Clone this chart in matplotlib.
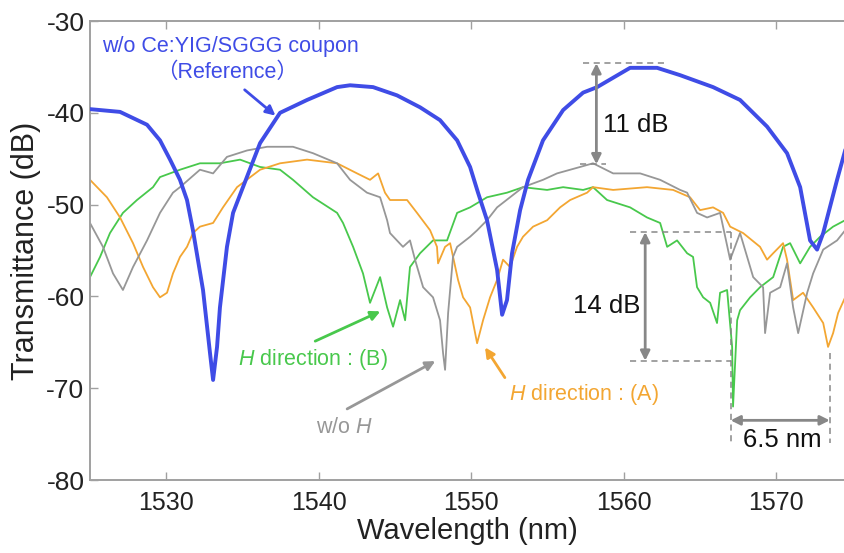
import matplotlib
matplotlib.use("Agg")
import matplotlib.pyplot as plt

plt.rcParams["font.family"] = ["Liberation Sans", "DejaVu Sans"]
plt.rcParams["mathtext.fontset"] = "custom"
plt.rcParams["mathtext.rm"] = "Liberation Sans"
plt.rcParams["mathtext.it"] = "Liberation Sans:italic"
plt.rcParams["axes.unicode_minus"] = False

# Reference spectrum (no Ce:YIG/SGGG coupon)
ref_wl = [1525.0, 1526.97, 1528.74, 1529.59, 1530.25, 1530.90, 1531.36, 1531.75, 1532.41, 1532.87,
          1533.07, 1533.33, 1533.52, 1533.98, 1534.38, 1535.03, 1536.15, 1537.46, 1539.23, 1541.20,
          1542.05, 1543.56, 1545.13, 1546.64, 1547.95, 1549.07, 1549.92, 1550.44, 1551.03, 1551.69,
          1552.02, 1552.34, 1552.67, 1553.20, 1553.72, 1554.70, 1556.02, 1557.33, 1558.25, 1560.41,
          1562.18, 1563.69, 1565.85, 1567.62, 1569.39, 1570.70, 1571.56, 1572.21, 1572.67, 1573.07,
          1573.98, 1574.51]
ref_db = [-39.6, -39.9, -41.3, -43.0, -45.1, -47.3, -49.5, -52.8, -59.3, -66.2,
          -69.1, -65.5, -61.2, -54.6, -50.9, -48.1, -43.3, -40.0, -38.6, -37.2,
          -37.0, -37.2, -38.1, -39.4, -40.8, -43.0, -45.9, -48.7, -51.7, -57.1,
          -62.0, -60.4, -55.3, -50.6, -47.3, -43.0, -39.7, -37.8, -37.2, -35.1,
          -35.1, -35.9, -37.2, -38.6, -41.5, -44.4, -48.1, -53.9, -54.9, -53.1,
          -47.3, -44.1]

# Without magnetic field
noh_wl = [1525.0, 1525.85, 1526.51, 1527.16, 1527.82, 1528.74, 1529.59, 1530.44, 1530.90, 1532.21,
          1533.07, 1533.98, 1535.30, 1536.61, 1538.31, 1539.62, 1541.20, 1542.05, 1543.16, 1544.02,
          1544.48, 1544.67, 1545.52, 1545.98, 1546.31, 1546.84, 1547.49, 1547.95, 1548.15, 1548.28,
          1548.48, 1548.80, 1549.07, 1549.92, 1550.38, 1551.03, 1551.69, 1552.54, 1553.39, 1554.70,
          1555.62, 1557.13, 1557.98, 1559.30, 1561.07, 1562.38, 1563.69, 1564.15, 1564.80, 1565.46,
          1566.31, 1566.97, 1567.62, 1568.48, 1569.13, 1569.26, 1569.59, 1570.25, 1570.70, 1571.10,
          1571.43, 1572.02, 1572.41, 1573.07, 1573.98, 1574.51]
noh_db = [-52.0, -54.6, -57.5, -59.3, -56.8, -53.9, -50.9, -48.7, -48.1, -46.2,
          -46.6, -44.8, -44.1, -43.7, -43.7, -44.4, -45.5, -47.3, -48.7, -49.2,
          -51.7, -53.1, -54.6, -53.9, -56.0, -59.0, -60.1, -62.6, -66.2, -68.0,
          -61.8, -55.7, -54.6, -53.5, -52.8, -51.7, -50.3, -49.2, -48.1, -47.3,
          -46.6, -45.9, -45.5, -46.6, -46.6, -47.3, -48.4, -48.7, -50.9, -51.4,
          -50.9, -56.0, -53.1, -57.9, -59.0, -64.0, -59.6, -59.0, -56.4, -61.2,
          -64.0, -59.6, -57.5, -54.9, -53.9, -52.8]

# Field along direction (B)
hb_wl = [1525.0, 1525.66, 1526.31, 1527.16, 1528.08, 1529.13, 1529.59, 1530.90, 1532.21, 1533.52,
         1534.84, 1536.15, 1537.46, 1538.31, 1539.62, 1541.20, 1541.59, 1542.25, 1542.90, 1543.36,
         1544.02, 1544.48, 1544.87, 1545.33, 1545.66, 1545.98, 1546.64, 1547.49, 1548.41, 1549.07,
         1549.92, 1551.03, 1552.34, 1553.39, 1554.97, 1556.02, 1557.33, 1557.98, 1558.90, 1560.41,
         1561.52, 1562.38, 1562.84, 1563.49, 1564.15, 1564.54, 1564.80, 1565.20, 1565.66, 1566.11,
         1566.31, 1566.77, 1567.10, 1567.16, 1567.43, 1567.62, 1568.28, 1568.93, 1569.79, 1570.44,
         1570.90, 1571.56, 1572.21, 1572.87, 1573.72, 1574.51]
hb_db = [-57.9, -55.7, -53.1, -50.9, -49.5, -48.1, -47.0, -46.2, -45.5, -45.5,
         -45.1, -45.9, -46.2, -47.3, -49.2, -50.9, -52.0, -54.6, -57.5, -60.7,
         -57.9, -61.2, -63.3, -60.4, -62.6, -56.8, -55.3, -53.9, -53.9, -50.9,
         -50.3, -49.2, -48.7, -48.1, -48.4, -48.1, -48.4, -48.1, -49.5, -50.3,
         -51.4, -52.0, -54.6, -53.9, -55.3, -55.7, -59.0, -60.1, -60.7, -62.9,
         -59.6, -59.3, -65.5, -72.0, -62.6, -61.5, -60.1, -59.0, -57.9, -54.6,
         -54.2, -56.4, -54.6, -53.5, -52.4, -51.7]

# Field along direction (A)
ha_wl = [1525.0, 1526.11, 1526.97, 1527.82, 1528.48, 1529.13, 1529.59, 1530.05, 1530.44, 1530.90,
         1531.36, 1531.75, 1532.21, 1533.07, 1533.72, 1534.64, 1536.15, 1537.46, 1539.23, 1541.20,
         1542.51, 1543.36, 1543.89, 1544.34, 1544.67, 1545.79, 1546.44, 1547.30, 1547.75, 1547.82,
         1548.28, 1548.61, 1549.13, 1549.46, 1549.92, 1550.38, 1550.77, 1551.23, 1551.69, 1552.08,
         1552.54, 1553.00, 1553.39, 1554.05, 1554.97, 1555.82, 1556.48, 1557.59, 1557.98, 1559.30,
         1561.52, 1563.23, 1564.34, 1565.00, 1565.85, 1566.51, 1566.97, 1567.82, 1568.93, 1569.39,
         1569.79, 1570.44, 1570.70, 1571.10, 1571.75, 1572.41, 1573.07, 1573.39, 1573.72, 1574.05,
         1574.51]
ha_db = [-47.3, -49.2, -51.4, -54.2, -56.8, -59.0, -60.1, -59.6, -57.5, -55.7,
         -54.6, -53.1, -52.4, -52.0, -50.3, -48.1, -46.2, -45.5, -45.1, -45.5,
         -46.6, -47.3, -46.6, -48.7, -49.5, -49.5, -50.9, -52.8, -54.6, -56.4,
         -54.6, -54.2, -58.2, -60.1, -61.2, -65.1, -62.6, -60.1, -58.2, -56.0,
         -56.8, -54.6, -53.5, -52.4, -51.7, -50.3, -49.5, -48.7, -48.1, -48.4,
         -48.1, -48.4, -49.2, -50.6, -50.3, -50.9, -52.4, -53.1, -54.6, -56.0,
         -55.3, -54.2, -56.0, -60.4, -59.6, -61.2, -62.9, -65.5, -64.0, -61.8,
         -60.1]

x_ticks = [1530, 1540, 1550, 1560, 1570]
y_ticks = [-80, -70, -60, -50, -40, -30]

C_REF = "#3f4ce6"
C_NOH = "#979797"
C_HB = "#48c84c"
C_HA = "#f3a632"
C_DIM = "#878787"
C_AX = "#a0a0a0"

fig = plt.figure(figsize=(8.45, 5.53), dpi=100)
ax = fig.add_axes([0.1065, 0.132, 0.8935, 0.830])

ax.plot(hb_wl, hb_db, color=C_HB, lw=1.3, zorder=2)
ax.plot(ha_wl, ha_db, color=C_HA, lw=1.3, zorder=2)
ax.plot(noh_wl, noh_db, color=C_NOH, lw=1.3, zorder=2)
ax.plot(ref_wl, ref_db, color=C_REF, lw=2.8, zorder=3)

ax.set_xlim(1525, 1574.5)
ax.set_ylim(-80, -30)
ax.set_xticks(x_ticks)
ax.set_yticks(y_ticks)
ax.tick_params(direction="in", length=6, width=1, color=C_AX, labelsize=18,
               labelcolor="#222222", top=True)
ax.tick_params(axis="x", pad=8)
ax.tick_params(axis="y", pad=4, labelsize=19)
for side in ("left", "bottom", "top"):
    ax.spines[side].set_color(C_AX)
    ax.spines[side].set_linewidth(1.4)
ax.spines["right"].set_visible(False)

ax.set_xlabel("Wavelength (nm)", fontsize=21, color="#222222", labelpad=1)
ax.set_ylabel("Transmittance (dB)", fontsize=22, color="#222222", labelpad=4)

# Curve labels
ax.text(1525.8, -32.8, "w/o Ce:YIG/SGGG coupon", color=C_REF, fontsize=15.5,
        ha="left", va="center")
ax.text(1534.0, -35.6, "（Reference）", color=C_REF, fontsize=15.5, ha="center",
        va="center", family=["Liberation Sans", "Noto Sans CJK JP"])
ax.annotate("", xy=(1537.3, -40.5), xytext=(1535.0, -37.3),
            arrowprops=dict(arrowstyle="-|>", color=C_REF, lw=2, mutation_scale=14))

ax.text(1534.7, -66.9, r"$\mathit{H}$ direction : (B)", color=C_HB, fontsize=15.5,
        ha="left", va="center")
ax.annotate("", xy=(1544.2, -61.5), xytext=(1539.6, -65.0),
            arrowprops=dict(arrowstyle="-|>", color=C_HB, lw=2, mutation_scale=14))

ax.text(1541.7, -74.3, r"w/o $\mathit{H}$", color=C_NOH, fontsize=15.5,
        ha="center", va="center")
ax.annotate("", xy=(1547.8, -66.9), xytext=(1541.7, -72.4),
            arrowprops=dict(arrowstyle="-|>", color=C_NOH, lw=2, mutation_scale=14))

ax.text(1552.5, -70.7, r"$\mathit{H}$ direction : (A)", color=C_HA, fontsize=15.5,
        ha="left", va="center")
ax.annotate("", xy=(1550.8, -65.3), xytext=(1552.3, -69.1),
            arrowprops=dict(arrowstyle="-|>", color=C_HA, lw=2, mutation_scale=14))

# Extinction / spacing markers
dash = dict(color=C_DIM, lw=1.1, ls=(0, (4, 3)), zorder=4)
dim = dict(arrowstyle="<|-|>", color=C_DIM, lw=2, mutation_scale=14, shrinkA=0, shrinkB=0)

ax.plot([1557.3, 1562.9], [-34.6, -34.6], **dash)
ax.plot([1557.1, 1558.8], [-45.6, -45.6], **dash)
ax.annotate("", xy=(1558.2, -34.6), xytext=(1558.2, -45.6), arrowprops=dim)
ax.text(1560.8, -41.3, "11 dB", fontsize=18.5, ha="center", va="center", color="#111111")

ax.plot([1560.4, 1567.0], [-53.0, -53.0], **dash)
ax.plot([1560.4, 1567.0], [-67.0, -67.0], **dash)
ax.annotate("", xy=(1561.4, -53.0), xytext=(1561.4, -67.0), arrowprops=dim)
ax.text(1558.9, -61.0, "14 dB", fontsize=18.5, ha="center", va="center", color="#111111")

ax.plot([1567.0, 1567.0], [-53.0, -76.0], **dash)
ax.plot([1573.5, 1573.5], [-66.2, -76.0], **dash)
ax.annotate("", xy=(1567.0, -73.5), xytext=(1573.5, -73.5), arrowprops=dim)
ax.text(1570.4, -75.6, "6.5 nm", fontsize=18.5, ha="center", va="center", color="#111111")

fig.savefig("out.png", dpi=100)
